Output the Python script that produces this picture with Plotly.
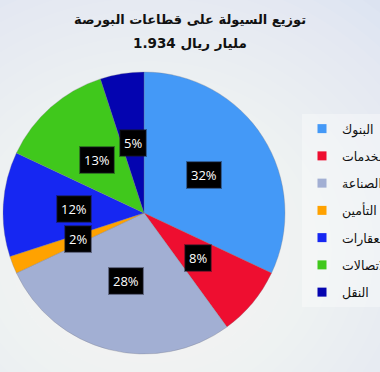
import math
import plotly.graph_objects as go

title_line1 = "توزيع السيولة على قطاعات البورصة"
title_line2 = "مليار ريال 1.934"
sectors = ["البنوك", "الخدمات", "الصناعة", "التأمين", "العقارات", "الاتصالات", "النقل"]
shares = [32, 8, 28, 2, 12, 13, 5]
colors = ["#4499F7", "#EE0E30", "#A2AFD3", "#FFA200", "#1627F2", "#40C81C", "#0404B0"]

W, H = 380, 372
cx, cy, R = 144, 213, 141  # pie centre / radius in px (layout)

fig = go.Figure()
fig.add_trace(go.Pie(
    labels=sectors, values=shares, sort=False, direction="clockwise", rotation=0,
    marker=dict(colors=colors, line=dict(color="rgba(120,120,130,0.5)", width=0.6)),
    textinfo="none", hoverinfo="label+percent", showlegend=False,
    domain=dict(x=[(cx - R) / W, (cx + R) / W], y=[1 - (cy + R) / H, 1 - (cy - R) / H]),
))

# legend entries (one per sector, square swatches)
for name, col in zip(sectors, colors):
    fig.add_trace(go.Scatter(
        x=[None], y=[None], mode="markers", name=name, legendgroup=name,
        marker=dict(symbol="square", size=9, color=col), hoverinfo="skip",
    ))

# background vignette (soft white glow)
shapes = []
n = 26
for i in range(n):
    rr = 420 - i * 14
    shapes.append(dict(type="circle", xref="paper", yref="paper",
                       x0=(150 - rr) / W, x1=(150 + rr) / W,
                       y0=1 - (250 + rr * 0.9) / H, y1=1 - (250 - rr * 0.9) / H,
                       fillcolor="rgba(255,255,255,0.07)", line=dict(width=0), layer="below"))

# percentage labels in black boxes, placed at half radius along slice mid-angle
annotations = []
total = sum(shares)
cum = 0
for v in shares:
    mid = (cum + v / 2) / total * 2 * math.pi
    cum += v
    px = cx + 0.5 * R * math.sin(mid)
    py = cy - 0.5 * R * math.cos(mid)
    annotations.append(dict(
        x=px / W, y=1 - py / H, xref="paper", yref="paper", showarrow=False,
        xanchor="center", yanchor="middle",
        text=f"{round(v / total * 100)}%", bgcolor="#000000",
        bordercolor="rgba(20,20,30,0.45)", borderwidth=2, borderpad=3,
        font=dict(family="Open Sans, Liberation Sans, sans-serif", size=13, color="white"),
    ))

annotations.append(dict(
    x=0.5, y=1 - 20 / H, xref="paper", yref="paper", showarrow=False,
    xanchor="center", yanchor="middle",
    text=f"<b>{title_line1}</b>", font=dict(family="DejaVu Sans, sans-serif", size=13, color="#111"),
))
annotations.append(dict(
    x=0.5, y=1 - 43 / H, xref="paper", yref="paper", showarrow=False,
    xanchor="center", yanchor="middle",
    text=f"<b>{title_line2}</b>", font=dict(family="DejaVu Sans, sans-serif", size=13.5, color="#111"),
))

fig.update_layout(
    width=W, height=H, margin=dict(l=0, r=0, t=0, b=0, autoexpand=False),
    paper_bgcolor="#cfd9ec", plot_bgcolor="rgba(0,0,0,0)",
    xaxis=dict(visible=False), yaxis=dict(visible=False),
    shapes=shapes, annotations=annotations,
    showlegend=True,
    legend=dict(x=302 / W, y=1 - 114 / H, xanchor="left", yanchor="top",
                bgcolor="rgba(255,255,255,0.35)", tracegroupgap=8,
                font=dict(family="DejaVu Sans, sans-serif", size=12.5, color="#111"),
                itemwidth=30),
)

fig.write_html("out.html", config={"displayModeBar": False},
               post_script="document.body.style.margin='0';")
